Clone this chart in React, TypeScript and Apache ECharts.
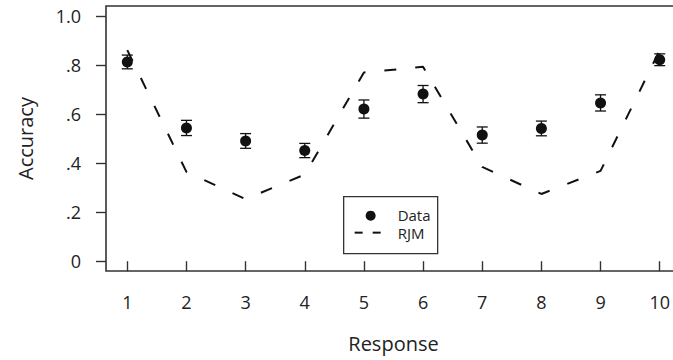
import React, { useEffect, useRef } from "react";
import * as echarts from "echarts";

const responses = [1, 2, 3, 4, 5, 6, 7, 8, 9, 10];
const dataAccuracy = [0.812, 0.543, 0.49, 0.451, 0.62, 0.681, 0.514, 0.541, 0.645, 0.821];
const dataError = [0.028, 0.031, 0.03, 0.029, 0.037, 0.035, 0.033, 0.03, 0.033, 0.024];
const rjmAccuracy = [0.86, 0.364, 0.253, 0.353, 0.769, 0.792, 0.384, 0.274, 0.368, 0.86];
const yTickValues = [0, 0.2, 0.4, 0.6, 0.8, 1.0];
const yTickLabels = ["0", ".2", ".4", ".6", ".8", "1.0"];
const xTickValues = [1, 2, 3, 4, 5, 6, 7, 8, 9, 10];
const legendLabels = ["Data", "RJM"];

const FONT = "Open Sans";
const INK = "#111";
const FRAME = "#333";

export default function App() {
  const ref = useRef<HTMLDivElement>(null);
  useEffect(() => {
    if (!ref.current) return;
    const chart = echarts.init(ref.current, undefined, { renderer: "svg" });
    const yLabelMap: Record<string, string> = {};
    yTickValues.forEach((v, i) => (yLabelMap[v.toFixed(1)] = yTickLabels[i]));
    const option: any = {
      animation: false,
      backgroundColor: "#fff",
      grid: {
        show: true,
        left: 106,
        top: 6,
        right: 9,
        bottom: 89,
        borderColor: FRAME,
        borderWidth: 1.6,
        containLabel: false,
      },
      xAxis: {
        type: "value",
        min: 0.64,
        max: 10.36,
        name: "Response",
        nameLocation: "middle",
        nameGap: 62,
        nameTextStyle: { fontFamily: FONT, fontSize: 20, color: "#222" },
        axisLine: { show: false },
        splitLine: { show: false },
        axisTick: {
          show: true,
          customValues: xTickValues,
          length: 10,
          lineStyle: { color: FRAME, width: 1.4 },
        },
        axisLabel: {
          customValues: xTickValues,
          margin: 22,
          fontFamily: FONT,
          fontSize: 18,
          color: "#222",
          formatter: (v: number) => String(v),
        },
      },
      yAxis: {
        type: "value",
        min: -0.04,
        max: 1.04,
        name: "Accuracy",
        nameLocation: "middle",
        nameGap: 71,
        nameTextStyle: { fontFamily: FONT, fontSize: 20, color: "#222" },
        axisLine: { show: false },
        splitLine: { show: false },
        axisTick: {
          show: true,
          customValues: yTickValues,
          length: 10,
          lineStyle: { color: FRAME, width: 1.4 },
        },
        axisLabel: {
          customValues: yTickValues,
          margin: 25,
          fontFamily: FONT,
          fontSize: 18,
          color: "#222",
          formatter: (v: number) => yLabelMap[v.toFixed(1)] ?? String(v),
        },
      },
      series: [
        {
          name: "RJM",
          type: "line",
          data: responses.map((r, i) => [r, rjmAccuracy[i]]),
          showSymbol: false,
          symbol: "none",
          lineStyle: { color: INK, width: 2, type: [12, 19] },
          z: 2,
        },
        {
          name: "ErrorBars",
          type: "custom",
          data: responses.map((r, i) => [r, dataAccuracy[i] - dataError[i], dataAccuracy[i] + dataError[i]]),
          encode: { x: 0, y: [1, 2] },
          renderItem: (params: any, api: any) => {
            const x = api.value(0);
            const lo = api.coord([x, api.value(1)]);
            const hi = api.coord([x, api.value(2)]);
            const hw = 5.5;
            const st = { stroke: INK, lineWidth: 1.3, fill: "none" };
            return {
              type: "group",
              children: [
                { type: "line", shape: { x1: lo[0], y1: lo[1], x2: hi[0], y2: hi[1] }, style: st },
                { type: "line", shape: { x1: lo[0] - hw, y1: lo[1], x2: lo[0] + hw, y2: lo[1] }, style: st },
                { type: "line", shape: { x1: hi[0] - hw, y1: hi[1], x2: hi[0] + hw, y2: hi[1] }, style: st },
              ],
            };
          },
          z: 3,
        },
        {
          name: "Data",
          type: "scatter",
          data: responses.map((r, i) => [r, dataAccuracy[i]]),
          symbol: "circle",
          symbolSize: 11,
          itemStyle: { color: INK, opacity: 1 },
          z: 4,
        },
      ],
      graphic: [
        {
          type: "group",
          left: 343,
          top: 196,
          children: [
            {
              type: "rect",
              shape: { x: 0, y: 0, width: 94, height: 57 },
              style: { fill: "#fff", stroke: FRAME, lineWidth: 1.3 },
            },
            { type: "circle", shape: { cx: 27, cy: 19, r: 5 }, style: { fill: INK } },
            {
              type: "line",
              shape: { x1: 11, y1: 36, x2: 19, y2: 36 },
              style: { stroke: INK, lineWidth: 2 },
            },
            {
              type: "line",
              shape: { x1: 29, y1: 36, x2: 37, y2: 36 },
              style: { stroke: INK, lineWidth: 2 },
            },
            {
              type: "text",
              x: 54,
              y: 27.5,
              style: {
                text: legendLabels.join("\n"),
                fontFamily: FONT,
                fontSize: 15,
                lineHeight: 17.5,
                fill: "#222",
                verticalAlign: "middle",
              },
            },
          ],
        },
      ],
    };
    chart.setOption(option);
    return () => chart.dispose();
  }, []);
  return (
    <div
      ref={ref}
      style={{ position: "fixed", left: 0, top: 0, width: 690, height: 360 }}
    />
  );
}
